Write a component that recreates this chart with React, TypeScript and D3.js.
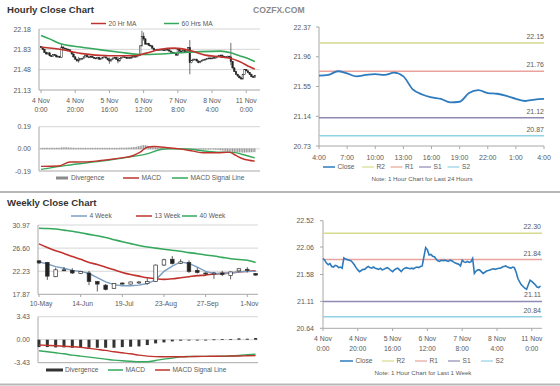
import React from "react";
import * as d3 from "d3";

const F = "'Liberation Sans', Arial, sans-serif";

// ---------- Hourly (last week) ----------
const hourlyClose = [
  21.86, 21.83, 21.78, 21.75, 21.77, 21.72, 21.71, 21.74, 21.73, 21.7,
  21.71, 21.69, 21.87, 21.85, 21.84, 21.83, 21.82, 21.79, 21.75, 21.7,
  21.66, 21.63, 21.65, 21.67, 21.67, 21.7, 21.72, 21.7, 21.69, 21.71,
  21.69, 21.68, 21.67, 21.69, 21.66, 21.67, 21.69, 21.7, 21.68, 21.65,
  21.63, 21.66, 21.68, 21.69, 21.66, 21.63, 21.67, 21.69, 21.7, 21.69,
  21.68, 21.69, 21.68, 21.7, 21.71, 21.7, 21.72, 21.73, 21.89, 22.05,
  22.01, 21.92, 21.93, 21.9, 21.89, 21.85, 21.82, 21.81, 21.83, 21.82,
  21.83, 21.82, 21.81, 21.83, 21.82, 21.8, 21.78, 21.77, 21.76, 21.73,
  21.83, 21.8, 21.79, 21.81, 21.79, 21.8, 21.86, 21.6, 21.64, 21.66,
  21.66, 21.63, 21.6, 21.62, 21.64, 21.65, 21.66, 21.67, 21.68, 21.67,
  21.68, 21.69, 21.69, 21.71, 21.72, 21.73, 21.71, 21.7, 21.69, 21.71,
  21.7, 21.62, 21.51, 21.45, 21.4, 21.37, 21.34, 21.32, 21.4, 21.48,
  21.46, 21.43, 21.4, 21.36, 21.35, 21.38,
];
const hourlyFirstOpen = 21.88;
const hourlyWickIdx = [12, 22, 40, 45, 59, 60, 87, 111];
const hourlyWickHigh = [21.92, 21.7, 21.69, 21.7, 22.15, 22.12, 21.99, 21.94];
const hourlyWickLow = [21.68, 21.6, 21.58, 21.59, 21.88, 21.98, 21.4, 21.56];
const hourTickIdx = [0, 20, 40, 60, 80, 100, 120];
const hourTickDay = ["4 Nov", "4 Nov", "5 Nov", "6 Nov", "7 Nov", "8 Nov", "11 Nov"];
const hourTickTime = ["0:00", "20:00", "16:00", "12:00", "8:00", "4:00", "0:00"];
const hourlyYTicks = [21.13, 21.48, 21.83, 22.18];

const ma20Idx = [0, 11, 23, 40, 55, 61, 70, 78, 87, 96, 105, 110, 116, 122, 125];
const ma20 = [21.87, 21.83, 21.76, 21.72, 21.72, 21.76, 21.83, 21.85, 21.81, 21.73, 21.7, 21.68, 21.62, 21.53, 21.49];
const ma60Idx = [0, 5, 11, 23, 35, 46, 58, 70, 81, 93, 105, 111, 116, 122, 125];
const ma60 = [22.07, 22.01, 21.93, 21.87, 21.82, 21.78, 21.74, 21.75, 21.77, 21.79, 21.8, 21.77, 21.72, 21.66, 21.62];

const macdHIdx = [0, 10, 17, 25, 35, 46, 54, 58, 62, 66, 74, 81, 89, 95, 103, 110, 114, 118, 125];
const macdH = [-0.15, -0.147, -0.113, -0.112, -0.1, -0.08, -0.057, -0.028, 0.014, 0.02, 0.01, 0.0, -0.02, -0.034, -0.034, -0.028, -0.057, -0.085, -0.105];
const signalHIdx = [0, 15, 35, 54, 62, 70, 74, 85, 93, 103, 112, 120, 125];
const signalH = [-0.176, -0.142, -0.105, -0.065, -0.043, -0.006, 0.0, 0.0, -0.014, -0.028, -0.03, -0.057, -0.078];
const divH = [
  0.004, 0.005, 0.004, 0.006, 0.005, 0.004, 0.005, 0.006, 0.004, 0.005,
  0.006, 0.005, 0.008, 0.009, 0.01, 0.009, 0.008, 0.007, 0.006, 0.005,
  0.005, 0.004, 0.005, 0.004, 0.005, 0.004, 0.005, 0.004, 0.005, 0.004,
  0.005, 0.004, 0.005, 0.004, 0.005, 0.004, 0.005, 0.004, 0.005, 0.004,
  0.005, 0.004, 0.005, 0.004, 0.005, 0.004, 0.005, 0.006, 0.005, 0.006,
  0.006, 0.007, 0.008, 0.009, 0.01, 0.012, 0.015, 0.018, 0.022, 0.026,
  0.028, 0.027, 0.024, 0.02, 0.017, 0.014, 0.011, 0.009, 0.008, 0.007,
  0.006, 0.005, 0.004, 0.003, 0.003, 0.002, 0.002, 0.001, 0.001, 0.0,
  -0.002, -0.003, -0.004, -0.004, -0.005, -0.004, -0.005, -0.006, -0.007, -0.006,
  -0.005, -0.005, -0.004, -0.004, -0.003, -0.003, -0.002, -0.002, -0.002, -0.001,
  -0.001, -0.002, -0.003, -0.004, -0.006, -0.008, -0.01, -0.012, -0.014, -0.016,
  -0.018, -0.02, -0.022, -0.024, -0.025, -0.026, -0.027, -0.027, -0.028, -0.028,
  -0.027, -0.026, -0.026, -0.025, -0.024, -0.024,
];
const macdHTicks = [-0.19, 0, 0.19];

// ---------- Weekly ----------
const weekLabels = ["10-May", "14-Jun", "19-Jul", "23-Aug", "27-Sep", "1-Nov"];
const weekTickIdx = [0, 5, 10, 15, 20, 25];
const weeklyOpen = [24.2, 23.9, 21.2, 22.5, 22.4, 21.8, 21.9, 20.3, 19.6, 19.0, 20.0, 19.8, 20.1, 19.9, 20.3, 23.4, 24.5, 23.7, 23.9, 22.4, 21.9, 21.8, 21.9, 21.4, 22.3, 22.6, 21.8];
const weeklyHigh = [24.3, 24.0, 22.9, 23.0, 22.8, 22.3, 22.3, 20.4, 19.8, 20.0, 20.1, 20.3, 20.4, 20.9, 23.5, 24.6, 25.1, 24.5, 24.3, 22.9, 22.0, 22.1, 22.3, 22.2, 22.8, 23.0, 21.9];
const weeklyLow = [23.6, 20.6, 21.1, 22.3, 21.7, 21.7, 19.6, 18.4, 18.6, 18.9, 19.7, 19.7, 19.8, 19.7, 20.2, 23.2, 23.5, 23.6, 21.9, 21.8, 21.6, 20.8, 21.3, 20.7, 22.2, 22.0, 21.4];
const weeklyClose = [23.8, 21.3, 22.5, 22.4, 21.9, 22.2, 20.3, 19.8, 18.8, 19.9, 19.8, 20.2, 20.2, 20.3, 23.4, 24.4, 23.7, 24.0, 22.2, 22.0, 21.8, 21.9, 21.6, 22.1, 22.7, 22.5, 21.5];
const ma4w = [24.0, 23.6, 23.1, 22.8, 22.4, 22.2, 21.8, 21.0, 20.2, 19.7, 19.5, 19.5, 19.6, 19.9, 20.6, 22.2, 23.2, 24.0, 23.7, 23.0, 22.2, 21.8, 21.8, 21.9, 22.1, 22.2, 22.2];
const ma13w = [27.4, 26.7, 26.1, 25.6, 25.0, 24.5, 23.9, 23.5, 23.0, 22.5, 22.0, 21.6, 21.3, 21.0, 20.8, 20.7, 20.8, 21.0, 21.2, 21.4, 21.5, 21.7, 21.8, 21.9, 22.1, 22.2, 22.3];
const ma40w = [30.35, 30.3, 30.2, 30.0, 29.8, 29.5, 29.2, 28.95, 28.6, 28.2, 27.8, 27.45, 27.1, 26.8, 26.6, 26.4, 26.2, 26.0, 25.75, 25.55, 25.3, 25.1, 24.85, 24.6, 24.45, 24.3, 23.9];
const weeklyYTicks = [17.87, 22.23, 26.6, 30.97];
const macdW = [-1.65, -1.8, -1.95, -2.1, -2.3, -2.45, -2.6, -2.75, -2.9, -3.05, -3.15, -3.22, -3.28, -3.28, -3.1, -2.9, -2.75, -2.55, -2.5, -2.48, -2.48, -2.48, -2.46, -2.42, -2.35, -2.25, -2.15];
const signalW = [-0.8, -0.85, -0.9, -0.97, -1.05, -1.15, -1.3, -1.45, -1.6, -1.8, -1.95, -2.1, -2.3, -2.45, -2.52, -2.55, -2.55, -2.55, -2.52, -2.5, -2.48, -2.47, -2.45, -2.43, -2.42, -2.4, -2.38];
const divW = [-1.1, -1.1, -1.15, -1.15, -1.2, -1.2, -1.2, -1.2, -1.2, -1.2, -1.1, -1.05, -1.0, -0.8, -0.55, -0.4, -0.25, -0.15, -0.1, -0.05, -0.05, 0.05, 0.1, 0.1, 0.2, 0.15, 0.25];
const macdWTicks = [-3.43, 0, 3.43];

// ---------- Right charts ----------
const dayLabels = ["4:00", "7:00", "10:00", "13:00", "16:00", "19:00", "22:00", "1:00", "4:00"];
const dayClose = [21.7, 21.71, 21.76, 21.73, 21.69, 21.71, 21.72, 21.71, 21.74, 21.69, 21.51, 21.44, 21.4, 21.38, 21.33, 21.34, 21.46, 21.5, 21.46, 21.45, 21.42, 21.38, 21.35, 21.37, 21.38];
const dayYTicks = [20.73, 21.14, 21.55, 21.96, 22.37];
const levelNames = ["R2", "R1", "S1", "S2"];
const levelColors = ["#d5da8c", "#e9a39c", "#9089b4", "#91d2e3"];
const dayLevels = [22.15, 21.76, 21.12, 20.87];
const weekLineYTicks = [20.64, 21.11, 21.58, 22.06, 22.52];
const weekLevels = [22.3, 21.84, 21.11, 20.84];

const AX = "#a8a8a8";
const GRID = "#d6d6d6";
const TXT = "#5a5a5a";

export default function App() {
  const xH = d3.scaleLinear().domain([0, 125]).range([41, 254.8]);
  const yH = d3.scaleLinear().domain([21.13, 22.18]).range([90, 29]);
  const yHM = d3.scaleLinear().domain([-0.19, 0.19]).range([171, 126.7]);
  const xW = d3.scaleLinear().domain([0, 26]).range([39, 255.6]);
  const yW = d3.scaleLinear().domain([17.87, 30.97]).range([294.3, 225]);
  const yWM = d3.scaleLinear().domain([-3.43, 3.43]).range([362.7, 316.7]);
  const xD = d3.scaleLinear().domain([0, 24]).range([319, 544]);
  const yD = d3.scaleLinear().domain([20.73, 22.37]).range([146, 27]);
  const xB = d3.scaleLinear().domain([0, 125]).range([323, 540.5]);
  const yB = d3.scaleLinear().domain([20.64, 22.52]).range([328.3, 220.7]);

  const lineIdx = (idx: number[], x: any, y: any) =>
    d3.line<number>().x((_, k) => x(idx[k])).y((d) => y(d)).curve(d3.curveMonotoneX);
  const lineSeq = (x: any, y: any, curve: any = d3.curveLinear) =>
    d3.line<number>().x((_, k) => x(k)).y((d) => y(d)).curve(curve);

  const txt = (x: number, y: number, s: string, anchor = "start", size = 7, fill = TXT, extra: any = {}) => (
    <text x={x} y={y} textAnchor={anchor as any} fontSize={size} fill={fill} fontFamily={F} {...extra}>
      {s}
    </text>
  );

  const legendLine = (x1: number, x2: number, y: number, color: string, label: string, w = 1.5) => (
    <g>
      <line x1={x1} x2={x2} y1={y} y2={y} stroke={color} strokeWidth={w} />
      {txt(x2 + 2.5, y + 2.3, label, "start", 6.6)}
    </g>
  );

  const candlesH = hourlyClose.map((c, i) => {
    const o = i === 0 ? hourlyFirstOpen : hourlyClose[i - 1];
    const wk = hourlyWickIdx.indexOf(i);
    const hi = wk >= 0 ? hourlyWickHigh[wk] : Math.max(o, c) + 0.01;
    const lo = wk >= 0 ? hourlyWickLow[wk] : Math.min(o, c) - 0.01;
    const top = yH(Math.max(o, c));
    const h = Math.max(0.8, Math.abs(yH(o) - yH(c)));
    const x = xH(i);
    return (
      <g key={"hc" + i}>
        <line x1={x} x2={x} y1={yH(hi)} y2={yH(lo)} stroke="#333" strokeWidth={0.7} />
        <rect x={x - 0.75} y={top} width={1.5} height={h} fill={c >= o ? "#fff" : "#222"} stroke="#222" strokeWidth={0.5} />
      </g>
    );
  });

  const candlesW = weeklyClose.map((c, i) => {
    const o = weeklyOpen[i];
    const x = xW(i);
    const top = yW(Math.max(o, c));
    const h = Math.max(1, Math.abs(yW(o) - yW(c)));
    return (
      <g key={"wc" + i}>
        <line x1={x} x2={x} y1={yW(weeklyHigh[i])} y2={yW(weeklyLow[i])} stroke="#333" strokeWidth={0.8} />
        <rect x={x - 1.8} y={top} width={3.6} height={h} fill={c >= o ? "#fff" : "#222"} stroke="#333" strokeWidth={0.7} />
      </g>
    );
  });

  return (
    <svg width={560} height={386} style={{ position: "absolute", left: 0, top: 0, background: "#fff" }}>
      <rect x={0} y={0} width={560} height={386} fill="#fff" />

      {/* ===== Hourly Close Chart ===== */}
      {txt(7, 13, "Hourly Close Chart", "start", 9.6, "#333", { fontWeight: "bold" })}
      {txt(253, 13, "COZFX.COM", "start", 8.6, "#8a8a8a", { fontWeight: "bold" })}
      {legendLine(91, 106, 23.5, "#c0332c", "20 Hr MA")}
      {legendLine(164, 179, 23.5, "#35a85c", "60 Hrs MA")}

      {hourlyYTicks.map((v, k) => (
        <g key={"hy" + k}>
          {k > 0 && <line x1={39} x2={260} y1={yH(v)} y2={yH(v)} stroke={GRID} strokeWidth={1} />}
          {txt(31, yH(v) + 2.5, v.toFixed(2), "end", 7)}
        </g>
      ))}
      <line x1={39} x2={39} y1={29} y2={90} stroke={AX} />
      <line x1={39} x2={260} y1={90} y2={90} stroke={AX} />
      {hourTickIdx.map((t, k) => (
        <g key={"hx" + k}>
          <line x1={xH(t)} x2={xH(t)} y1={90} y2={93} stroke={AX} />
          {txt(xH(t), 103, hourTickDay[k], "middle", 6.8)}
          {txt(xH(t), 112, hourTickTime[k], "middle", 6.8)}
        </g>
      ))}
      {candlesH}
      <path d={lineIdx(ma60Idx, xH, yH)(ma60) || ""} fill="none" stroke="#35a85c" strokeWidth={1.6} />
      <path d={lineIdx(ma20Idx, xH, yH)(ma20) || ""} fill="none" stroke="#c0332c" strokeWidth={1.6} />

      {/* Hourly MACD */}
      {macdHTicks.map((v, k) => (
        <g key={"hm" + k}>
          {k > 0 && <line x1={39} x2={260} y1={yHM(v)} y2={yHM(v)} stroke={GRID} />}
          {txt(31, yHM(v) + 2.5, v.toFixed(2), "end", 7)}
        </g>
      ))}
      <line x1={39} x2={39} y1={126.7} y2={171} stroke={AX} />
      <line x1={39} x2={260} y1={171} y2={171} stroke={AX} />
      {divH.map((d, i) => (
        <rect key={"hd" + i} x={xH(i) - 0.6} width={1.2} y={Math.min(yHM(0), yHM(d)) - 0.5}
          height={Math.abs(yHM(d) - yHM(0)) + 1} fill="#9a9a9a" />
      ))}
      <path d={lineIdx(signalHIdx, xH, yHM)(signalH) || ""} fill="none" stroke="#35a85c" strokeWidth={1.4} />
      <path d={lineIdx(macdHIdx, xH, yHM)(macdH) || ""} fill="none" stroke="#c0332c" strokeWidth={1.4} />
      <rect x={56} y={176.5} width={12} height={3} fill="#8a8a8a" />
      {txt(71, 180.3, "Divergence", "start", 6.6)}
      {legendLine(123, 139, 178, "#c0332c", "MACD")}
      {legendLine(172, 188, 178, "#35a85c", "MACD Signal Line")}

      {/* ===== Top right: last 24 hours ===== */}
      {dayYTicks.map((v, k) => (
        <g key={"dy" + k}>
          <line x1={316} x2={319} y1={yD(v)} y2={yD(v)} stroke={AX} />
          {txt(311, yD(v) + 2.5, v.toFixed(2), "end", 7)}
        </g>
      ))}
      <line x1={319} x2={319} y1={27} y2={146} stroke={AX} />
      <line x1={319} x2={544} y1={146} y2={146} stroke={AX} />
      {dayLabels.map((s, k) => (
        <g key={"dx" + k}>
          <line x1={xD(k * 3)} x2={xD(k * 3)} y1={146} y2={149} stroke={AX} />
          {txt(xD(k * 3), 159.5, s, "middle", 7)}
        </g>
      ))}
      {dayLevels.map((v, k) => (
        <g key={"dl" + k}>
          <line x1={319} x2={544} y1={yD(v)} y2={yD(v)} stroke={levelColors[k]} strokeWidth={1.5} />
          {txt(544, yD(v) - 4, v.toFixed(2), "end", 7)}
        </g>
      ))}
      <path d={lineSeq(xD, yD, d3.curveMonotoneX)(dayClose) || ""} fill="none" stroke="#2d7bbd" strokeWidth={1.8} />
      {legendLine(323, 335, 167, "#2d7bbd", "Close")}
      {levelNames.map((n, k) => (
        <g key={"dlg" + k}>{legendLine(362 + k * 28.5, 374 + k * 28.5, 167, levelColors[k], n, 1.2)}</g>
      ))}
      {txt(422, 180.5, "Note: 1 Hour Chart for Last 24 Hours", "middle", 6.2)}

      <line x1={0} x2={560} y1={192} y2={192} stroke="#b8b8b8" strokeWidth={2} />

      {/* ===== Weekly Close Chart ===== */}
      {txt(7, 206, "Weekly Close Chart", "start", 9.6, "#333", { fontWeight: "bold" })}
      {legendLine(71, 87, 216, "#7a9fc4", "4 Week")}
      {legendLine(136, 152, 216, "#c0332c", "13 Week")}
      {legendLine(182, 197, 216, "#35a85c", "40 Week")}
      {weeklyYTicks.map((v, k) => (
        <g key={"wy" + k}>
          {k > 0 && <line x1={38} x2={258} y1={yW(v)} y2={yW(v)} stroke={GRID} />}
          {txt(30, yW(v) + 2.5, v.toFixed(2), "end", 7)}
        </g>
      ))}
      <line x1={38} x2={38} y1={225} y2={294.3} stroke={AX} />
      <line x1={38} x2={258} y1={294.3} y2={294.3} stroke={AX} />
      {weekTickIdx.map((t, k) => (
        <g key={"wx" + k}>
          <line x1={xW(t)} x2={xW(t)} y1={294.3} y2={297} stroke={AX} />
          {txt(xW(t) + 2, 306, weekLabels[k], "middle", 6.8)}
        </g>
      ))}
      <path d={lineSeq(xW, yW, d3.curveMonotoneX)(ma40w) || ""} fill="none" stroke="#35a85c" strokeWidth={1.6} />
      <path d={lineSeq(xW, yW, d3.curveMonotoneX)(ma13w) || ""} fill="none" stroke="#c0332c" strokeWidth={1.6} />
      <path d={lineSeq(xW, yW)(ma4w) || ""} fill="none" stroke="#7a9fc4" strokeWidth={1.4} />
      {candlesW}

      {/* Weekly MACD */}
      {macdWTicks.map((v, k) => (
        <g key={"wm" + k}>
          {k > 0 && <line x1={38} x2={258} y1={yWM(v)} y2={yWM(v)} stroke={GRID} />}
          {txt(30, yWM(v) + 2.5, v.toFixed(2), "end", 7)}
        </g>
      ))}
      <line x1={38} x2={38} y1={316.7} y2={362.7} stroke={AX} />
      <line x1={38} x2={258} y1={362.7} y2={362.7} stroke={AX} />
      {divW.map((d, i) => (
        <rect key={"wd" + i} x={xW(i) - 1.5} width={3} y={Math.min(yWM(0), yWM(d))}
          height={Math.max(0.8, Math.abs(yWM(d) - yWM(0)))} fill="#333" />
      ))}
      <path d={lineSeq(xW, yWM, d3.curveMonotoneX)(macdW) || ""} fill="none" stroke="#35a85c" strokeWidth={1.4} />
      <path d={lineSeq(xW, yWM, d3.curveMonotoneX)(signalW) || ""} fill="none" stroke="#c0332c" strokeWidth={1.4} />
      <rect x={46} y={368.5} width={17} height={3} fill="#333" />
      {txt(65, 372.3, "Divergence", "start", 6.6)}
      {legendLine(108, 123, 370, "#35a85c", "MACD")}
      {legendLine(155, 170, 370, "#c0332c", "MACD Signal Line")}

      {/* ===== Bottom right: last week line ===== */}
      {weekLineYTicks.map((v, k) => (
        <g key={"by" + k}>
          <line x1={320} x2={323} y1={yB(v)} y2={yB(v)} stroke={AX} />
          {txt(314, yB(v) + 2.5, v.toFixed(2), "end", 7)}
        </g>
      ))}
      <line x1={323} x2={323} y1={220.7} y2={328.3} stroke={AX} />
      <line x1={323} x2={542} y1={328.3} y2={328.3} stroke={AX} />
      {hourTickIdx.map((t, k) => (
        <g key={"bx" + k}>
          <line x1={xB(t)} x2={xB(t)} y1={328.3} y2={331} stroke={AX} />
          {txt(xB(t), 341, hourTickDay[k], "middle", 6.8)}
          {txt(xB(t), 350.5, hourTickTime[k], "middle", 6.8)}
        </g>
      ))}
      {weekLevels.map((v, k) => (
        <g key={"bl" + k}>
          <line x1={323} x2={542} y1={yB(v)} y2={yB(v)} stroke={levelColors[k]} strokeWidth={1.5} />
          {txt(541, yB(v) - 4, v.toFixed(2), "end", 7)}
        </g>
      ))}
      <path d={lineSeq(xB, yB)(hourlyClose) || ""} fill="none" stroke="#2d7bbd" strokeWidth={1.6} />
      {legendLine(340, 353, 361, "#2d7bbd", "Close")}
      {levelNames.map((n, k) => (
        <g key={"blg" + k}>{legendLine(382 + k * 33, 394 + k * 33, 361, levelColors[k], n, 1.2)}</g>
      ))}
      {txt(423, 375, "Note: 1 Hour Chart for Last 1 Week", "middle", 6.2)}

      <line x1={0} x2={560} y1={384.5} y2={384.5} stroke="#b8b8b8" strokeWidth={2} />
    </svg>
  );
}
